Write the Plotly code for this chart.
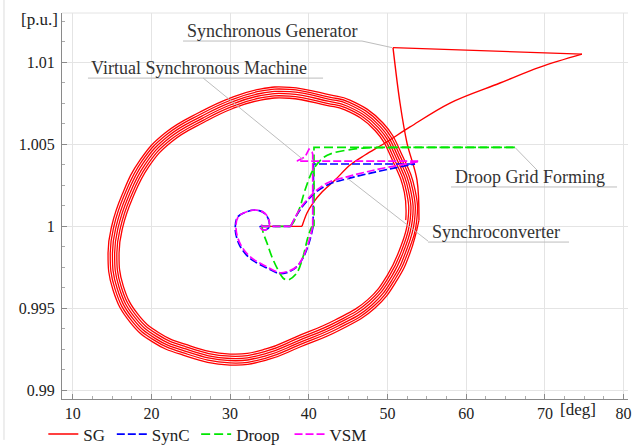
import plotly.graph_objects as go

# ---------------- data ----------------
# SG: initial angle jump at nominal voltage
sg_jump_x = [34.0, 39.14]
sg_jump_y = [1.0, 1.0]
# SG: rising excursion up to the far vertex
sg_rise_x = [39.14, 39.77, 40.53, 41.68, 43.33, 45.24, 47.14, 49.68, 52.86, 57.94, 64.29, 69.38, 74.71]
sg_rise_y = [1.0, 1.00081, 1.00142, 1.00209, 1.00282, 1.00374, 1.00435, 1.00508, 1.00606, 1.00752, 1.00874, 1.00971, 1.01050]
# SG: return stroke and descent into the orbit
sg_back_x = [74.71, 50.70]
sg_back_y = [1.01050, 1.0109]
sg_desc_x = [50.70, 51.59, 52.48, 53.75, 54.0]
sg_desc_y = [1.0109, 1.00752, 1.00508, 1.00282, 1.00038]
# SG sustained oscillation (six turns)
sg_orbit_x = [
    54.00, 52.86, 51.21, 48.41, 43.96, 38.88, 34.69, 29.99, 24.02, 20.20, 17.28, 15.12, 14.49, 14.99, 16.26, 18.55, 21.73, 26.18, 29.99, 33.80, 37.61, 42.69, 45.23, 49.43, 51.97, 53.50,
    53.72, 52.59, 50.97, 48.23, 43.83, 38.80, 34.66, 29.99, 24.09, 20.34, 17.49, 15.38, 14.77, 15.26, 16.52, 18.77, 21.90, 26.29, 30.05, 33.81, 37.60, 42.61, 45.10, 49.23, 51.73, 53.23,
    53.44, 52.33, 50.73, 48.05, 43.71, 38.71, 34.63, 29.99, 24.16, 20.48, 17.70, 15.64, 15.05, 15.54, 16.78, 19.00, 22.07, 26.40, 30.10, 33.83, 37.58, 42.52, 44.98, 49.03, 51.48, 52.96,
    53.16, 52.06, 50.50, 47.86, 43.58, 38.63, 34.61, 29.99, 24.23, 20.62, 17.91, 15.90, 15.33, 15.81, 17.04, 19.22, 22.23, 26.52, 30.16, 33.84, 37.57, 42.44, 44.85, 48.84, 51.24, 52.69,
    52.88, 51.80, 50.26, 47.68, 43.46, 38.54, 34.58, 29.99, 24.30, 20.76, 18.12, 16.16, 15.61, 16.09, 17.30, 19.45, 22.40, 26.63, 30.21, 33.86, 37.55, 42.35, 44.73, 48.64, 51.00, 52.42,
    52.60, 51.53, 50.02, 47.50, 43.33, 38.46, 34.55, 29.99, 24.37, 20.90, 18.33, 16.42, 15.89, 16.36, 17.56, 19.67, 22.57, 26.74, 30.27, 33.87, 37.54, 42.27, 44.60, 48.44, 50.75, 52.15,
    52.32]
sg_orbit_y = [
    1.00038, 0.99837, 0.99672, 0.99502, 0.99368, 0.99264, 0.99185, 0.99154, 0.99215, 0.99294, 0.99416, 0.99612, 0.99837, 1.00008, 1.00191, 1.00404, 1.00569, 1.00697, 1.00782, 1.00837, 1.00848, 1.00801, 1.00770, 1.00630, 1.00423, 1.00222,
    1.00038, 0.99841, 0.99679, 0.99512, 0.99380, 0.99277, 0.99198, 0.99167, 0.99228, 0.99306, 0.99425, 0.99617, 0.99837, 1.00005, 1.00186, 1.00396, 1.00558, 1.00685, 1.00769, 1.00824, 1.00835, 1.00788, 1.00758, 1.00621, 1.00416, 1.00219,
    1.00038, 0.99845, 0.99685, 0.99522, 0.99392, 0.99289, 0.99212, 0.99181, 0.99241, 0.99317, 0.99434, 0.99622, 0.99837, 1.00003, 1.00181, 1.00388, 1.00548, 1.00672, 1.00756, 1.00810, 1.00821, 1.00776, 1.00746, 1.00611, 1.00410, 1.00215,
    1.00038, 0.99849, 0.99692, 0.99533, 0.99404, 0.99302, 0.99225, 0.99194, 0.99254, 0.99329, 0.99443, 0.99627, 0.99837, 1.00000, 1.00176, 1.00380, 1.00537, 1.00660, 1.00743, 1.00797, 1.00808, 1.00763, 1.00734, 1.00602, 1.00403, 1.00212,
    1.00038, 0.99853, 0.99699, 0.99543, 0.99416, 0.99315, 0.99239, 0.99208, 0.99267, 0.99341, 0.99452, 0.99632, 0.99837, 0.99997, 1.00171, 1.00372, 1.00526, 1.00648, 1.00730, 1.00783, 1.00794, 1.00750, 1.00722, 1.00592, 1.00396, 1.00208,
    1.00038, 0.99857, 0.99706, 0.99553, 0.99429, 0.99328, 0.99252, 0.99221, 0.99280, 0.99353, 0.99461, 0.99637, 0.99837, 0.99995, 1.00166, 1.00364, 1.00516, 1.00636, 1.00717, 1.00770, 1.00781, 1.00737, 1.00710, 1.00583, 1.00390, 1.00205,
    1.00038]

# SynC
sync_rise_x = [37.7, 39.1, 41.0, 42.7, 44.85, 47.4, 50.3, 53.5]
sync_rise_y = [1.0, 1.00115, 1.00212, 1.00260, 1.00290, 1.00320, 1.00350, 1.00380]
sync_jump_x = [34.0, 37.7, None, 53.5, 40.6, 40.55]
sync_jump_y = [1.0, 1.0, None, 1.00380, 1.00380, 1.0]
sync_settle_x = [40.55, 40.1, 39.3, 38.4, 37.2, 36.3, 34.6, 32.45, 31.15, 30.65, 30.98, 32.1, 33.4, 34.42, 34.97, 34.85, 34.2, 33.8, 34.0]
sync_settle_y = [1.0, 0.9991, 0.9981, 0.99750, 0.99718, 0.99712, 0.99748, 0.99808, 0.99890, 0.99988, 1.00058, 1.00089, 1.00099, 1.00078, 1.00027, 0.99988, 0.99977, 0.99998, 1.0]

# Droop
droop_rise_x = [37.61, 37.99, 38.88, 39.52, 40.53, 41.80, 43.07, 44.85, 46.89, 51.59, 59.2, 66.2]
droop_rise_y = [1.0, 1.00020, 1.00118, 1.00221, 1.00343, 1.00417, 1.00447, 1.00465, 1.00477, 1.00481, 1.00482, 1.00481]
droop_jump_x = [34.0, 37.61, None, 66.2, 40.66, 40.66]
droop_jump_y = [1.0, 1.0, None, 1.00481, 1.00481, 1.0]
droop_settle_x = [40.66, 40.41, 39.90, 39.26, 38.46, 37.36, 36.72, 36.09, 35.32, 34.69, 34.18, 34.05, 34.0]
droop_settle_y = [1.0, 0.99996, 0.99935, 0.99813, 0.99715, 0.99673, 0.99685, 0.99734, 0.99813, 0.99898, 0.99965, 0.99996, 1.0]

# VSM
vsm_rise_x = [37.7, 39.1, 41.04, 42.69, 44.85, 47.40, 50.32, 53.9]
vsm_rise_y = [1.0, 1.00122, 1.00222, 1.00272, 1.00302, 1.00333, 1.00363, 1.00395]
vsm_jump_x = [34.0, 37.7, None, 53.9, 38.5, 39.52, 40.03, 40.41, 40.5, 40.5]
vsm_jump_y = [1.0, 1.0, None, 1.00398, 1.00398, 1.00423, 1.00471, 1.00453, 1.0044, 1.0]
vsm_settle_x = [40.5, 40.06, 39.30, 38.46, 37.19, 36.34, 34.65, 32.53, 31.26, 30.75, 31.04, 32.11, 33.38, 34.43, 34.98, 34.85, 34.22, 33.80, 34.02, 34.0]
vsm_settle_y = [1.0, 0.99916, 0.99815, 0.99754, 0.99723, 0.99717, 0.99754, 0.99815, 0.99896, 0.99988, 1.00059, 1.00089, 1.00099, 1.00079, 1.00028, 0.99988, 0.99977, 0.99998, 1.00008, 1.0]

x_ticks = [10, 20, 30, 40, 50, 60, 70, 80]
y_ticks = [0.99, 0.995, 1.0, 1.005, 1.01]
y_tick_text = ["0.99", "0.995", "1", "1.005", "1.01"]

colors = {"SG": "#ff0000", "SynC": "#0000ff", "Droop": "#00e600", "VSM": "#ff00ff"}

# ---------------- figure ----------------
SERIF = "Liberation Serif, DejaVu Serif, serif"
fig = go.Figure()

def add(x, y, name, dash, legend, show, shape="linear", width=1.7, smoothing=1.0):
    fig.add_trace(go.Scatter(
        x=x, y=y, mode="lines", name=name, legendgroup=name, showlegend=show, legend=legend,
        line=dict(color=colors[name], width=width, dash=dash, shape=shape, smoothing=smoothing),
        hoverinfo="skip", connectgaps=False))

add(sg_jump_x, sg_jump_y, "SG", "solid", "legend", True, width=1.4)
add(sg_rise_x, sg_rise_y, "SG", "solid", "legend", False, shape="spline", width=1.4)
add(sg_back_x, sg_back_y, "SG", "solid", "legend", False, width=1.4)
add(sg_desc_x, sg_desc_y, "SG", "solid", "legend", False, shape="spline", width=1.4)
add(sg_orbit_x, sg_orbit_y, "SG", "solid", "legend", False, shape="spline", width=1.3, smoothing=1.3)

dash_b = "8px,3px"
add(sync_rise_x, sync_rise_y, "SynC", dash_b, "legend2", True, shape="spline")
add(sync_jump_x, sync_jump_y, "SynC", dash_b, "legend2", False)
add(sync_settle_x, sync_settle_y, "SynC", dash_b, "legend2", False, shape="spline")

dash_g = "9px,4px"
add(droop_rise_x, droop_rise_y, "Droop", dash_g, "legend3", True, shape="spline")
add(droop_jump_x, droop_jump_y, "Droop", dash_g, "legend3", False)
add(droop_settle_x, droop_settle_y, "Droop", dash_g, "legend3", False, shape="spline")

dash_m = "8px,3px"
add(vsm_rise_x, vsm_rise_y, "VSM", dash_m, "legend4", True, shape="spline")
add(vsm_jump_x, vsm_jump_y, "VSM", dash_m, "legend4", False)
add(vsm_settle_x, vsm_settle_y, "VSM", dash_m, "legend4", False, shape="spline")

grid = "#e4e4e4"
axis_font = dict(family=SERIF, size=16, color="#222")
fig.update_xaxes(range=[8.64, 80.56], tickvals=x_ticks, showgrid=True, gridcolor=grid, gridwidth=1,
                 zeroline=False, showline=True, linecolor="#8a8a8a", linewidth=1,
                 ticks="inside", ticklen=5, tickcolor="#8a8a8a", tickfont=axis_font,
                 minor=dict(dtick=2.5, ticks="inside", ticklen=3, tickcolor="#aaaaaa", showgrid=False))
fig.update_yaxes(range=[0.98947, 1.01301], tickvals=y_ticks, ticktext=y_tick_text, showgrid=True,
                 gridcolor=grid, gridwidth=1, zeroline=False, showline=True, linecolor="#8a8a8a",
                 linewidth=1, ticks="inside", ticklen=5, tickcolor="#8a8a8a", tickfont=axis_font,
                 ticklabelstandoff=3,
                 minor=dict(dtick=0.00125, ticks="inside", ticklen=3, tickcolor="#aaaaaa", showgrid=False))

leg_font = dict(family=SERIF, size=17, color="#222")
leg_common = dict(orientation="h", yanchor="middle", y=-0.092, xanchor="left",
                  font=leg_font, bgcolor="rgba(0,0,0,0)", borderwidth=0, itemwidth=30)
fig.update_layout(
    width=633, height=446, margin=dict(l=62, r=5, t=13, b=47, autoexpand=False),
    paper_bgcolor="white", plot_bgcolor="white",
    legend=dict(x=-0.033, **leg_common),
    legend2=dict(x=0.088, **leg_common),
    legend3=dict(x=0.237, **leg_common),
    legend4=dict(x=0.402, **leg_common),
)

lead = dict(color="#bdbdbd", width=1)
shapes = [
    # Synchronous Generator
    dict(type="line", xref="x", yref="y", x0=24.02, y0=1.0113, x1=46.76, y1=1.0113, line=lead),
    dict(type="line", xref="x", yref="y", x0=46.76, y0=1.0113, x1=50.57, y1=1.0109, line=lead),
    # Virtual Synchronous Machine
    dict(type="line", xref="x", yref="y", x0=11.94, y0=1.00904, x1=41.81, y1=1.00904, line=lead),
    dict(type="line", xref="x", yref="y", x0=26.58, y0=1.00904, x1=39.26, y1=1.00408, line=lead),
    # Droop Grid Forming
    dict(type="line", xref="x", yref="y", x0=58.07, y0=1.0024, x1=79.17, y1=1.0024, line=lead),
    dict(type="line", xref="x", yref="y", x0=66.20, y0=1.00481, x1=69.0, y1=1.00343, line=lead),
    # Synchroconverter
    dict(type="line", xref="x", yref="y", x0=55.15, y0=0.99904, x1=73.07, y1=0.99904, line=lead),
    dict(type="line", xref="x", yref="y", x0=44.85, y0=1.00295, x1=55.15, y1=0.9991, line=lead),
    # frame bits
    dict(type="line", xref="paper", yref="paper", x0=0, y0=1, x1=1, y1=1, line=dict(color=grid, width=1)),
    dict(type="line", xref="paper", yref="paper", x0=-0.1025, y0=1.034, x1=-0.1025, y1=-0.106,
         line=dict(color="#dddddd", width=1)),
]
fig.update_layout(shapes=shapes)

lab_font = dict(family=SERIF, size=18, color="#333")
ann = [
    dict(text="Synchronous Generator", x=35.32, y=1.01191),
    dict(text="Virtual Synchronous Machine", x=26.05, y=1.00965),
    dict(text="Droop Grid Forming", x=68.11, y=1.00301),
    dict(text="Synchroconverter", x=63.85, y=0.99965),
]
annotations = [dict(xref="x", yref="y", showarrow=False, xanchor="center", yanchor="middle",
                    font=lab_font, **a) for a in ann]
annotations += [
    dict(text="[p.u.]", xref="paper", yref="paper", x=-0.0389, y=0.982, showarrow=False,
         xanchor="center", yanchor="middle", font=dict(family=SERIF, size=17, color="#222")),
    dict(text="[deg]", xref="paper", yref="paper", x=0.9117, y=-0.026, showarrow=False,
         xanchor="center", yanchor="middle", font=dict(family=SERIF, size=17, color="#222")),
]
fig.update_layout(annotations=annotations)

fig.write_html("out.html", config={"displayModeBar": False},
               post_script="document.body.style.margin='0';document.body.style.padding='0';"
                           "document.body.style.overflow='hidden';")
